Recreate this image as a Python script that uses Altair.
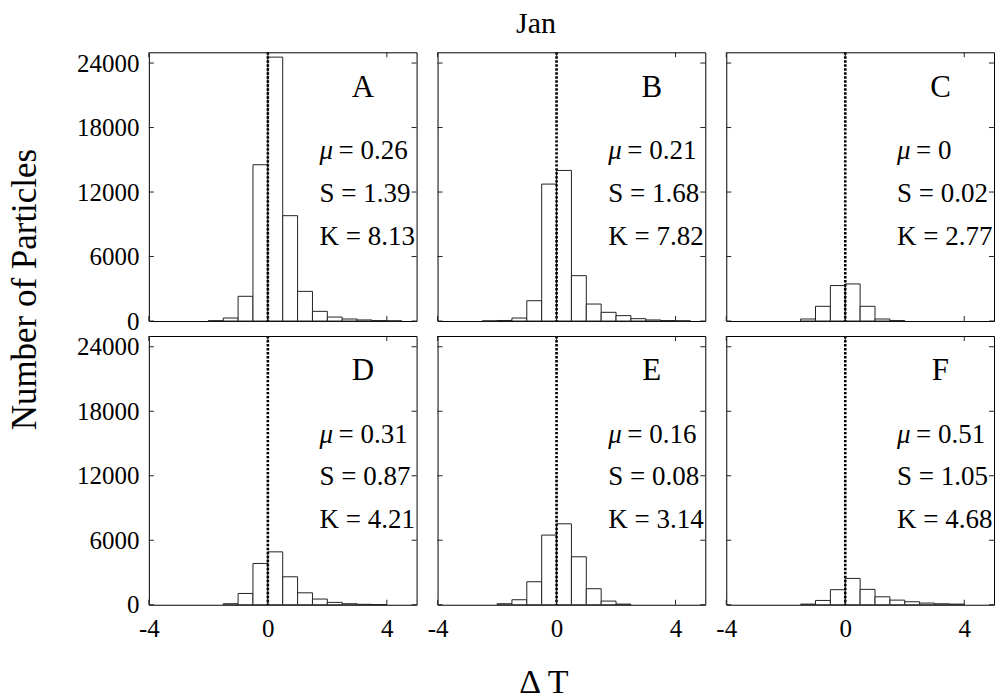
import altair as alt
import pandas as pd

# ---------------- data ----------------
panel_ids = ["A", "B", "C", "D", "E", "F"]
bin_starts = [-2.5, -2.0, -1.5, -1.0, -0.5, 0.0, 0.5, 1.0, 1.5, 2.0, 2.5, 3.0, 3.5, 4.0]
bin_width = 0.5
counts_A = [0, 30, 280, 2300, 14540, 24550, 9800, 2760, 900, 370, 190, 100, 40, 20]
counts_B = [10, 50, 280, 1890, 12740, 14010, 4220, 1580, 810, 500, 220, 100, 40, 20]
counts_C = [0, 0, 190, 1370, 3300, 3450, 1370, 190, 40, 0, 0, 0, 0, 0]
counts_D = [0, 0, 95, 1050, 3840, 4920, 2600, 1110, 530, 220, 95, 40, 15, 0]
counts_E = [0, 95, 465, 2140, 6480, 7530, 4460, 1490, 340, 60, 0, 0, 0, 0]
counts_F = [0, 0, 60, 400, 1400, 2450, 1430, 740, 430, 280, 155, 90, 60, 0]
all_counts = [counts_A, counts_B, counts_C, counts_D, counts_E, counts_F]
mu_vals = ["0.26", "0.21", "0", "0.31", "0.16", "0.51"]
skew_vals = ["1.39", "1.68", "0.02", "0.87", "0.08", "1.05"]
kurt_vals = ["8.13", "7.82", "2.77", "4.21", "3.14", "4.68"]
x_ticks = [-4, 0, 4]
y_ticks = [0, 6000, 12000, 18000, 24000]
month_title = "Jan"
y_title = "Number of Particles"
x_title = "\u0394 T"

# ---------------- style ----------------
SERIF = "Liberation Serif"
W, H = 268, 269
TICK = 5
X_DOMAIN = [-4, 5]
Y_DOMAIN = [0, 25000]
LABEL_SIZE = 25
STAT_SIZE = 27


def make_panel(i):
    row, col = divmod(i, 3)
    show_x = row == 1
    show_y = col == 0
    xscale = alt.Scale(domain=X_DOMAIN, nice=False, zero=False)
    yscale = alt.Scale(domain=Y_DOMAIN, nice=False)

    if show_x:
        xa = dict(values=x_ticks, ticks=False, domain=False, grid=False,
                  labelExpr="datum.value", labelFont=SERIF, labelFontSize=LABEL_SIZE,
                  labelColor="black", labelPadding=12, labelFlush=False,
                  labelOverlap=False, title=None)
        if i == 4:
            xa.update(title=x_title, titleFont=SERIF, titleFontSize=34,
                      titleFontWeight="normal", titleColor="black",
                      titleX=106, titleY=88, titleAlign="center",
                      titleBaseline="alphabetic", titleAngle=0)
        xaxis = alt.Axis(**xa)
    else:
        xaxis = None

    # top axis carrying only the month title (panel B)
    if i == 1:
        top_axis = alt.Axis(orient="top", labels=False, ticks=False, domain=False,
                            grid=False, title=month_title, titleFont=SERIF,
                            titleFontSize=30, titleFontWeight="normal",
                            titleColor="black", titleX=98, titleY=-20,
                            titleAlign="center", titleBaseline="alphabetic",
                            titleAngle=0)
    else:
        top_axis = xaxis

    if show_y:
        ya = dict(values=y_ticks, ticks=False, domain=False, grid=False,
                  labelExpr="datum.value", labelFont=SERIF, labelFontSize=LABEL_SIZE,
                  labelColor="black", labelPadding=10, labelFlush=False,
                  labelOverlap=False, title=None)
        if i == 3:
            ya.update(title=y_title, titleFont=SERIF, titleFontSize=35,
                      titleFontWeight="normal", titleColor="black",
                      titleX=-113, titleY=-47, titleAlign="center",
                      titleBaseline="alphabetic", titleAngle=270)
        yaxis = alt.Axis(**ya)
    else:
        yaxis = None

    df = pd.DataFrame({
        "x0": bin_starts,
        "x1": [b + bin_width for b in bin_starts],
        "n": all_counts[i],
    })
    df = df[df["n"] > 0]

    bars = alt.Chart(df).mark_bar(fill="white", stroke="#222222", strokeWidth=1).encode(
        x=alt.X("x0:Q", scale=xscale, axis=xaxis),
        x2="x1:Q",
        y=alt.Y("n:Q", scale=yscale, axis=yaxis),
        y2=alt.datum(0),
    )

    zero_df = pd.DataFrame({"z": [0]})
    zero_line = alt.Chart(zero_df).mark_rule(
        color="black", strokeWidth=2.6, strokeDash=[2.4, 1.6]
    ).encode(
        x=alt.X("z:Q", scale=xscale, axis=top_axis),
        y=alt.value(0), y2=alt.value(H),
    )

    xt = pd.DataFrame({"v": x_ticks})
    yt = pd.DataFrame({"v": y_ticks})
    tick_style = dict(color="#222222", strokeWidth=1)
    xt_bottom = alt.Chart(xt).mark_rule(**tick_style).encode(
        x=alt.X("v:Q", scale=xscale, axis=xaxis), y=alt.value(H), y2=alt.value(H - TICK))
    xt_top = alt.Chart(xt).mark_rule(**tick_style).encode(
        x=alt.X("v:Q", scale=xscale, axis=xaxis), y=alt.value(0), y2=alt.value(TICK))
    yt_left = alt.Chart(yt).mark_rule(**tick_style).encode(
        y=alt.Y("v:Q", scale=yscale, axis=yaxis), x=alt.value(0), x2=alt.value(TICK))
    yt_right = alt.Chart(yt).mark_rule(**tick_style).encode(
        y=alt.Y("v:Q", scale=yscale, axis=yaxis), x=alt.value(W), x2=alt.value(W - TICK))

    ann = pd.DataFrame({
        "letter": [panel_ids[i]],
        "mu": ["= " + mu_vals[i]],
        "s": ["S = " + skew_vals[i]],
        "k": ["K = " + kurt_vals[i]],
    })
    base = alt.Chart(ann)

    def xd(v):
        return alt.XDatum(v, scale=xscale, axis=xaxis)

    def yd(v):
        return alt.YDatum(v, scale=yscale, axis=yaxis)

    txt = dict(font=SERIF, color="black", baseline="middle")
    letter = base.mark_text(fontSize=31, align="center", **txt).encode(
        x=xd(3.2), y=yd(21700), text="letter:N")
    mu_sym = base.mark_text(fontSize=STAT_SIZE, align="left", fontStyle="italic", **txt).encode(
        x=xd(1.74), y=yd(15800), text=alt.value("\u03bc"))
    mu_val = base.mark_text(fontSize=STAT_SIZE, align="left", dx=19, **txt).encode(
        x=xd(1.74), y=yd(15800), text="mu:N")
    s_txt = base.mark_text(fontSize=STAT_SIZE, align="left", **txt).encode(
        x=xd(1.74), y=yd(11850), text="s:N")
    k_txt = base.mark_text(fontSize=STAT_SIZE, align="left", **txt).encode(
        x=xd(1.74), y=yd(7850), text="k:N")

    layer = alt.layer(bars, zero_line, xt_bottom, xt_top, yt_left, yt_right,
                      letter, mu_sym, mu_val, s_txt, k_txt).properties(width=W, height=H)
    if i == 1:
        layer = layer.resolve_axis(x="independent")
    return layer


panels = [make_panel(i) for i in range(6)]

chart = alt.concat(
    *panels, columns=3, spacing={"row": 15, "column": 21}, bounds="flush",
).properties(
    padding={"left": 7, "top": 7, "right": 0, "bottom": 0},
    background="white",
).configure_view(stroke="black", strokeWidth=1)

chart.save("out.html", embed_options={"renderer": "svg", "actions": False})
